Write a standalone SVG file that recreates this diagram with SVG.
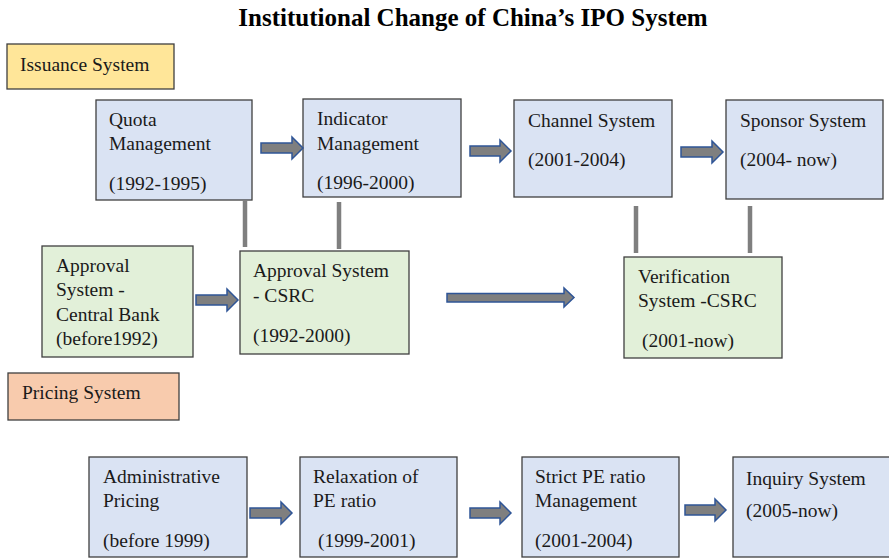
<svg xmlns="http://www.w3.org/2000/svg" width="889" height="559" viewBox="0 0 889 559">
  <style>
    text { font-family: "Liberation Serif", "Times New Roman", serif; font-size: 19.5px; fill: #1a1a1a; }
    .title { font-size: 25px; font-weight: bold; fill: #000; }
    .box { stroke: #3f3f3f; stroke-width: 1.3; }
    .blue { fill: #DAE3F3; }
    .green { fill: #E2F0D9; }
    .yellow { fill: #FFE699; }
    .peach { fill: #F8CBAD; }
    .arrow { fill: #7F7F7F; stroke: #2F5597; stroke-width: 1.5; stroke-linejoin: miter; }
    .link { stroke: #7F7F7F; stroke-width: 4.5; fill: none; }
  </style>

  <rect width="889" height="559" fill="#ffffff"/>

  <text class="title" x="473" y="26" text-anchor="middle">Institutional Change of China’s IPO System</text>

  <!-- section labels -->
  <g id="issuance-label">
    <rect class="box yellow" x="7" y="44" width="167" height="45"/>
    <text x="20" y="71">Issuance System</text>
  </g>
  <g id="pricing-label">
    <rect class="box peach" x="8" y="373" width="171" height="47"/>
    <text x="22" y="399">Pricing System</text>
  </g>

  <!-- issuance row -->
  <g id="quota">
    <rect class="box blue" x="96" y="100" width="156" height="100"/>
    <text x="109" y="126">Quota</text>
    <text x="109" y="150">Management</text>
    <text x="109" y="190">(1992-1995)</text>
  </g>
  <g id="indicator">
    <rect class="box blue" x="303" y="99" width="158" height="98"/>
    <text x="317" y="125">Indicator</text>
    <text x="317" y="150">Management</text>
    <text x="317" y="189">(1996-2000)</text>
  </g>
  <g id="channel">
    <rect class="box blue" x="514" y="100" width="158" height="97"/>
    <text x="528" y="127">Channel System</text>
    <text x="528" y="166">(2001-2004)</text>
  </g>
  <g id="sponsor">
    <rect class="box blue" x="726" y="100" width="157" height="99"/>
    <text x="740" y="127">Sponsor System</text>
    <text x="740" y="166">(2004- now)</text>
  </g>

  <!-- approval row -->
  <g id="approval-central-bank">
    <rect class="box green" x="42" y="246" width="151" height="111"/>
    <text x="56" y="272">Approval</text>
    <text x="56" y="296">System -</text>
    <text x="56" y="321">Central Bank</text>
    <text x="56" y="345">(before1992)</text>
  </g>
  <g id="approval-csrc">
    <rect class="box green" x="240" y="251" width="169" height="103"/>
    <text x="253" y="277">Approval System</text>
    <text x="253" y="302">- CSRC</text>
    <text x="253" y="342">(1992-2000)</text>
  </g>
  <g id="verification-csrc">
    <rect class="box green" x="624" y="257" width="158" height="101"/>
    <text x="638" y="283">Verification</text>
    <text x="638" y="307">System -CSRC</text>
    <text x="642" y="347">(2001-now)</text>
  </g>

  <!-- pricing row -->
  <g id="administrative-pricing">
    <rect class="box blue" x="89" y="457" width="158" height="100"/>
    <text x="103" y="483">Administrative</text>
    <text x="103" y="507">Pricing</text>
    <text x="103" y="547">(before 1999)</text>
  </g>
  <g id="relaxation-pe">
    <rect class="box blue" x="300" y="457" width="157" height="100"/>
    <text x="313" y="483">Relaxation of</text>
    <text x="313" y="507">PE ratio</text>
    <text x="318" y="547">(1999-2001)</text>
  </g>
  <g id="strict-pe">
    <rect class="box blue" x="522" y="457" width="157" height="100"/>
    <text x="535" y="483">Strict PE ratio</text>
    <text x="535" y="507">Management</text>
    <text x="535" y="547">(2001-2004)</text>
  </g>
  <g id="inquiry">
    <rect class="box blue" x="733" y="457" width="160" height="100"/>
    <text x="746" y="485">Inquiry System</text>
    <text x="746" y="517">(2005-now)</text>
  </g>

  <!-- connectors -->
  <g id="connectors">
    <!-- vertical ties between issuance and approval regimes -->
    <line class="link" x1="245" y1="200" x2="245" y2="247"/>
    <line class="link" x1="339" y1="202" x2="339" y2="249"/>
    <line class="link" x1="636" y1="206" x2="636" y2="253"/>
    <line class="link" x1="750" y1="206" x2="750" y2="253"/>

    <!-- block arrows: issuance row -->
    <path class="arrow" d="M261,143 H292 V137 L303,148 L292,159 V153 H261 Z"/>
    <path class="arrow" d="M470,146 H500 V140 L511,151 L500,162 V156 H470 Z"/>
    <path class="arrow" d="M681,147 H712 V141 L723,152 L712,163 V157 H681 Z"/>

    <!-- block arrows: approval row -->
    <path class="arrow" d="M196,295 H227 V289 L238,300 L227,311 V305 H196 Z"/>
    <path class="arrow" d="M447,293.5 H564 V288 L574,297.5 L564,307 V302 H447 Z"/>

    <!-- block arrows: pricing row -->
    <path class="arrow" d="M250,508 H281 V502 L292,513 L281,524 V518 H250 Z"/>
    <path class="arrow" d="M470,508 H500 V502 L511,513 L500,524 V518 H470 Z"/>
    <path class="arrow" d="M685,505 H715 V499 L726,510 L715,521 V515 H685 Z"/>
  </g>
</svg>
